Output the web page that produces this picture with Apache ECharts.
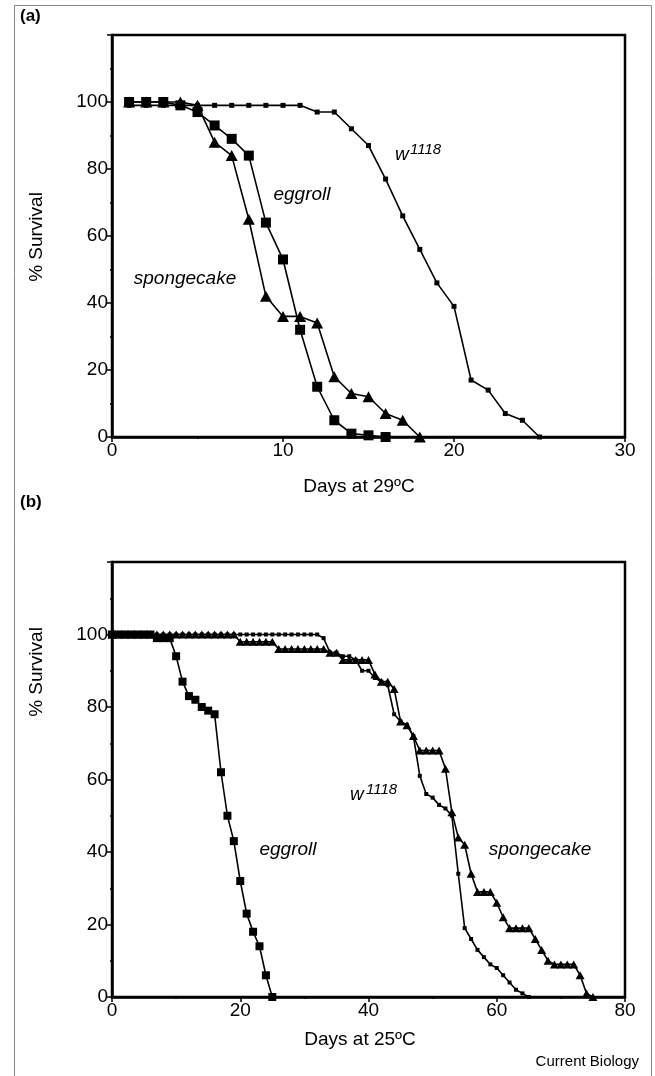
<!DOCTYPE html>
<html>
<head>
<meta charset="utf-8">
<script src="https://cdn.jsdelivr.net/npm/echarts@6/dist/echarts.min.js"></script>
<style>
html,body{margin:0;padding:0;background:#fff;}
#c{width:655px;height:1076px;}
</style>
</head>
<body>
<div id="c"></div>
<script>
// ---------- Panel (a): 29ºC ----------
const daysEggA = [1,2,3,4,5,6,7,8,9,10,11,12,13,14,15,16];
const eggA     = [100,100,100,99,97,93,89,84,64,53,32,15,5,1,0.5,0];
const daysSpgA = [1,2,3,4,5,6,7,8,9,10,11,12,13,14,15,16,17,18];
const spgA     = [100,100,100,100,99,88,84,65,42,36,36,34,18,13,12,7,5,0];
const daysWA   = [1,2,3,4,5,6,7,8,9,10,11,12,13,14,15,16,17,18,19,20,21,22,23,24,25];
const wA       = [99,99,99,99,99,99,99,99,99,99,99,97,97,92,87,77,66,56,46,39,17,14,7,5,0];

// ---------- Panel (b): 25ºC ----------
const daysEggB = [0,1,2,3,4,5,6,7,8,9,10,11,12,13,14,15,16,17,18,19,20,21,22,23,24,25];
const eggB     = [100,100,100,100,100,100,100,99,99,99,94,87,83,82,80,79,78,62,50,43,32,23,18,14,6,0];
const daysWB   = [0,1,2,3,4,5,6,7,8,9,10,11,12,13,14,15,16,17,18,19,20,21,22,23,24,25,26,27,28,29,30,31,32,
                  33,34,35,36,37,38,39,40,41,42,43,44,45,46,47,48,49,50,51,52,53,54,55,56,57,58,59,60,61,62,63,64,65];
const wB       = [100,100,100,100,100,100,100,100,100,100,100,100,100,100,100,100,100,100,100,100,100,100,100,100,100,100,100,100,100,100,100,100,100,
                  99,95,95,94,94,93,90,90,88,87,86,78,76,75,72,61,56,55,53,52,50,34,19,16,13,11,9,8,6,4,2,1,0];
const daysSpgB = [0,1,2,3,4,5,6,7,8,9,10,11,12,13,14,15,16,17,18,19,20,21,22,23,24,25,26,27,28,29,30,31,32,33,34,35,36,37,
                  38,39,40,41,42,43,44,45,46,47,48,49,50,51,52,53,54,55,56,57,58,59,60,61,62,63,64,65,66,67,68,69,70,71,72,73,74,75];
const spgB     = [100,100,100,100,100,100,100,100,100,100,100,100,100,100,100,100,100,100,100,100,98,98,98,98,98,98,96,96,96,96,96,96,96,96,95,95,93,93,
                  93,93,93,89,87,87,85,76,75,72,68,68,68,68,63,51,44,42,34,29,29,29,26,22,19,19,19,19,16,13,10,9,9,9,9,6,1,0];

// ---------- Axis tick settings ----------
const yTicks = [0,20,40,60,80,100];
const xTicksA = [0,10,20,30];
const xTicksB = [0,20,40,60,80];

function pairs(xs, ys){ return xs.map((x,i)=>[x, ys[i]]); }

const FONT = "'Liberation Sans', Arial, sans-serif";
const axisCommon = {
  axisLine:{show:true, onZero:false, lineStyle:{color:'#000', width:2.5}},
  axisTick:{show:true, inside:false, length:5, lineStyle:{color:'#000', width:1.5}},
  minorTick:{show:true, splitNumber:2, length:2, lineStyle:{color:'#000', width:1.5}},
  splitLine:{show:false},
  axisLabel:{color:'#000', fontFamily:FONT, fontSize:19}
};

const chart = echarts.init(document.getElementById('c'), null, {renderer:'canvas'});

const lineBase = {type:'line', animation:false, lineStyle:{color:'#000', width:1.6}, itemStyle:{color:'#000', borderWidth:0}, z:3};

const option = {
  animation:false,
  backgroundColor:'#fff',
  grid:[
    {left:112, top:35, width:513, height:402, show:true, borderColor:'#000', borderWidth:2.5, backgroundColor:'transparent'},
    {left:112, top:562, width:513, height:435, show:true, borderColor:'#000', borderWidth:2.5, backgroundColor:'transparent'}
  ],
  xAxis:[
    Object.assign({}, axisCommon, {gridIndex:0, type:'value', min:0, max:30, interval:10,
      axisLabel:Object.assign({}, axisCommon.axisLabel, {margin:4})}),
    Object.assign({}, axisCommon, {gridIndex:1, type:'value', min:0, max:80, interval:20,
      axisLabel:Object.assign({}, axisCommon.axisLabel, {margin:4})})
  ],
  yAxis:[
    Object.assign({}, axisCommon, {gridIndex:0, type:'value', min:0, max:120, interval:20,
      axisLabel:Object.assign({}, axisCommon.axisLabel, {margin:4, formatter:v=> yTicks.includes(v)? String(v):''})}),
    Object.assign({}, axisCommon, {gridIndex:1, type:'value', min:0, max:120, interval:20,
      axisLabel:Object.assign({}, axisCommon.axisLabel, {margin:4, formatter:v=> yTicks.includes(v)? String(v):''})})
  ],
  series:[
    Object.assign({}, lineBase, {name:'w1118 (a)', xAxisIndex:0, yAxisIndex:0, data:pairs(daysWA,wA), symbol:'rect', symbolSize:5}),
    Object.assign({}, lineBase, {name:'spongecake (a)', xAxisIndex:0, yAxisIndex:0, data:pairs(daysSpgA,spgA), symbol:'triangle', symbolSize:[12,11]}),
    Object.assign({}, lineBase, {name:'eggroll (a)', xAxisIndex:0, yAxisIndex:0, data:pairs(daysEggA,eggA), symbol:'rect', symbolSize:10}),
    Object.assign({}, lineBase, {name:'w1118 (b)', xAxisIndex:1, yAxisIndex:1, data:pairs(daysWB,wB), symbol:'rect', symbolSize:4}),
    Object.assign({}, lineBase, {name:'spongecake (b)', xAxisIndex:1, yAxisIndex:1, data:pairs(daysSpgB,spgB), symbol:'triangle', symbolSize:[9,8]}),
    Object.assign({}, lineBase, {name:'eggroll (b)', xAxisIndex:1, yAxisIndex:1, data:pairs(daysEggB,eggB), symbol:'rect', symbolSize:8})
  ],
  graphic:[
    {type:'rect', shape:{x:14.5, y:5.5, width:637, height:1100}, style:{fill:'none', stroke:'#888', lineWidth:1}, silent:true},
    {type:'text', x:20, y:8, style:{text:'(a)', font:"bold 17px "+FONT, fill:'#000'}},
    {type:'text', x:20, y:494, style:{text:'(b)', font:"bold 17px "+FONT, fill:'#000'}},
    {type:'text', x:37, y:237, rotation:Math.PI/2, style:{text:'% Survival', font:"19px "+FONT, fill:'#000', align:'center', verticalAlign:'middle'}},
    {type:'text', x:37, y:672, rotation:Math.PI/2, style:{text:'% Survival', font:"19px "+FONT, fill:'#000', align:'center', verticalAlign:'middle'}},
    {type:'text', x:359, y:487, style:{text:'Days at 29ºC', font:"19px "+FONT, fill:'#000', align:'center', verticalAlign:'middle'}},
    {type:'text', x:360, y:1040, style:{text:'Days at 25ºC', font:"19px "+FONT, fill:'#000', align:'center', verticalAlign:'middle'}},
    {type:'text', x:639, y:1062, style:{text:'Current Biology', font:"15px "+FONT, fill:'#000', align:'right', verticalAlign:'middle'}},
    {type:'text', x:302, y:195, style:{text:'eggroll', font:"italic 19px "+FONT, fill:'#000', align:'center', verticalAlign:'middle'}},
    {type:'text', x:185, y:279, style:{text:'spongecake', font:"italic 19px "+FONT, fill:'#000', align:'center', verticalAlign:'middle'}},
    {type:'text', x:395, y:155, style:{text:'w', font:"italic 19px "+FONT, fill:'#000', align:'left', verticalAlign:'middle'}},
    {type:'text', x:410, y:150, style:{text:'1118', font:"italic 15px "+FONT, fill:'#000', align:'left', verticalAlign:'middle'}},
    {type:'text', x:288, y:850, style:{text:'eggroll', font:"italic 19px "+FONT, fill:'#000', align:'center', verticalAlign:'middle'}},
    {type:'text', x:540, y:850, style:{text:'spongecake', font:"italic 19px "+FONT, fill:'#000', align:'center', verticalAlign:'middle'}},
    {type:'text', x:350, y:795, style:{text:'w', font:"italic 19px "+FONT, fill:'#000', align:'left', verticalAlign:'middle'}},
    {type:'text', x:366, y:790, style:{text:'1118', font:"italic 15px "+FONT, fill:'#000', align:'left', verticalAlign:'middle'}}
  ]
};
chart.setOption(option);
</script>
</body>
</html>
